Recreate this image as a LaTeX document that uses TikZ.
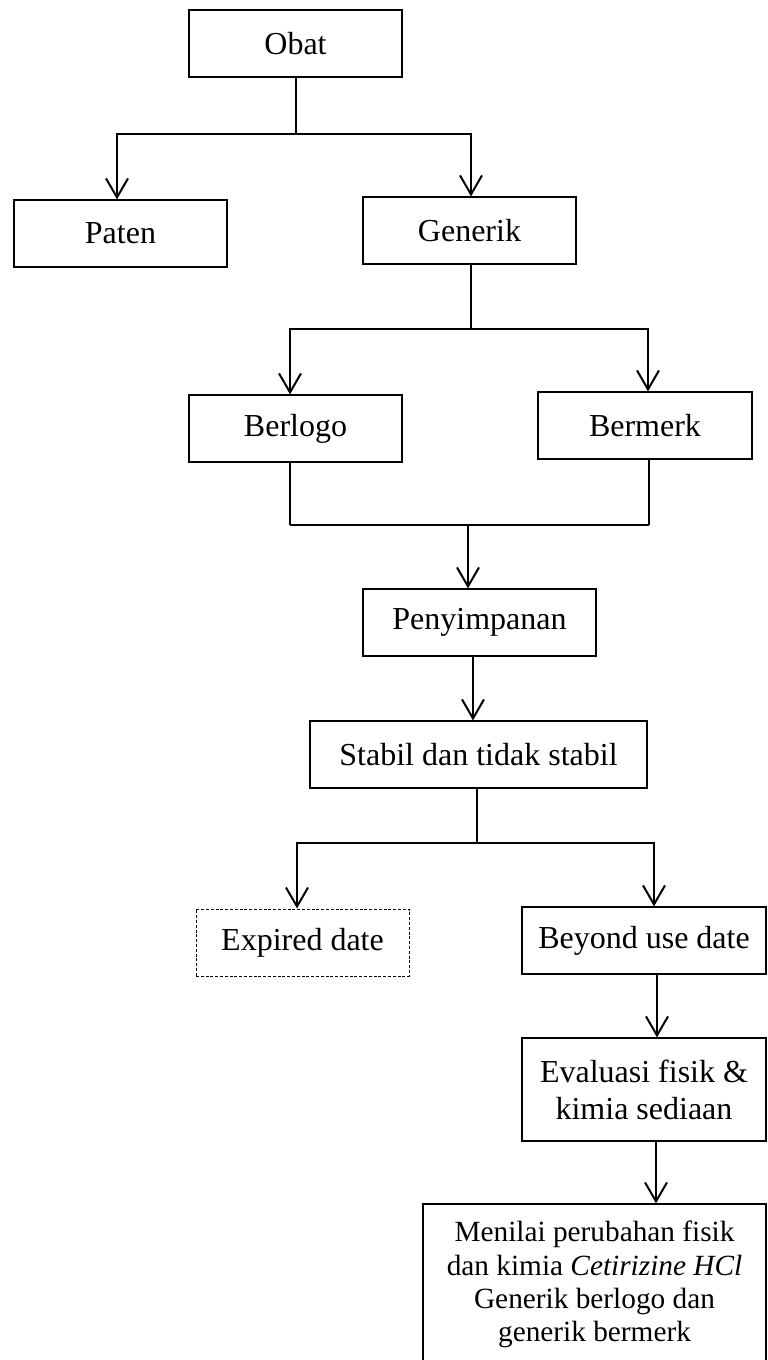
\documentclass[tikz,border=0pt]{standalone}
\usepackage{fontspec}
\setmainfont{Liberation Serif}
\usetikzlibrary{arrows.meta}
\tikzset{
  box/.style={draw, line width=1.2pt, inner sep=0pt, align=center,
    font=\fontsize{32}{36.8}\selectfont},
  conn/.style={line width=2pt},
  stem/.style={line width=1.8pt},
  tip/.tip={Straight Barb[length=19pt,width=22pt,line join=miter]},
  dashbox/.style={box, dash pattern=on 3pt off 1.8pt, line width=1pt}
}
\begin{document}
\begin{tikzpicture}[x=1pt,y=-1pt]
\useasboundingbox (0,0) rectangle (768,1360);
\clip (0,0) rectangle (768,1360);
\fill[white] (0,0) rectangle (768,1360);

\node[box, minimum width=213pt, minimum height=67pt] (obat) at (295.5,43.5) {Obat};
\node[box, minimum width=213pt, minimum height=67pt] (paten) at (120.5,233.5) {Paten};
\node[box, minimum width=213pt, minimum height=67pt] (generik) at (469.5,230.5) {Generik};
\node[box, minimum width=213pt, minimum height=67pt] (berlogo) at (295.5,428.5) {Berlogo};
\node[box, minimum width=214pt, minimum height=67pt] (bermerk) at (645,425.5) {Bermerk};
\node[box, minimum width=233pt, minimum height=67pt] (peny) at (479.5,622.5) {Penyimpanan};
\node[box, minimum width=337pt, minimum height=67pt] (stabil) at (478.5,754.5) {Stabil dan tidak stabil};
\node[dashbox, minimum width=213pt, minimum height=67pt] (expired) at (302.5,942.5) {Expired date};
\node[box, minimum width=244pt, minimum height=67pt] (beyond) at (644,940.5) {Beyond use date};
\node[box, minimum width=244pt, minimum height=103pt] (eval) at (644,1089.5) {Evaluasi fisik \&\\kimia sediaan};
\node[box, minimum width=343pt, minimum height=161pt, font=\fontsize{29.3}{33.3}\selectfont] (final) at (594.5,1284.5)
  {Menilai perubahan fisik\\dan kimia \textit{Cetirizine HCl}\\Generik berlogo dan\\generik bermerk};

% Obat -> Paten / Generik
\coordinate (a0) at (296,134);
\coordinate (a1) at (117,134);
\coordinate (a2) at (471,134);
\draw[stem] (a0 |- obat.south) -- (a0);
\draw[conn, tip-tip] (a1 |- paten.north) -- (a1) -- (a2) -- (a2 |- generik.north);

% Generik -> Berlogo / Bermerk
\coordinate (b1) at (290,329);
\coordinate (b2) at (648,329);
\coordinate (b0) at (471,329);
\draw[stem] (b0 |- generik.south) -- (b0);
\draw[conn, tip-tip] (b1 |- berlogo.north) -- (b1) -- (b2) -- (b2 |- bermerk.north);

% Berlogo / Bermerk -> Penyimpanan
\coordinate (d1) at (290,525);
\coordinate (d2) at (649,525);
\coordinate (d3) at (468,525);
\draw[stem] (d1 |- berlogo.south) -- (d1);
\draw[stem] (d2 |- bermerk.south) -- (d2);
\draw[conn] (d1) -- (d2);
\draw[conn, -tip] (d3) -- (d3 |- peny.north);

% Penyimpanan -> Stabil
\coordinate (e) at (473,656);
\draw[conn, -tip] (e |- peny.south) -- (e |- stabil.north);

% Stabil -> Expired / Beyond
\coordinate (f0) at (477,843);
\coordinate (f1) at (297,843);
\coordinate (f2) at (654,843);
\draw[stem] (f0 |- stabil.south) -- (f0);
\draw[conn, tip-tip] (f1 |- expired.north) -- (f1) -- (f2) -- (f2 |- beyond.north);

% Beyond -> Evaluasi -> final
\coordinate (g) at (657,974);
\coordinate (h) at (656,1141);
\draw[conn, -tip] (g |- beyond.south) -- (g |- eval.north);
\draw[conn, -tip] (h |- eval.south) -- (h |- final.north);
\end{tikzpicture}
\end{document}
